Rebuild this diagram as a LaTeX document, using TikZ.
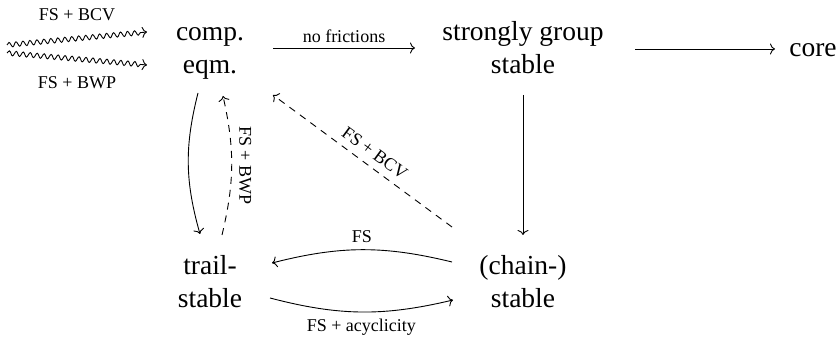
\documentclass[tikz,border=0pt]{standalone}
\usepackage{fontspec}
\setmainfont{Liberation Serif}
\newfontfamily\timesfont{Liberation Serif}
\usetikzlibrary{arrows.meta,decorations.pathmorphing,calc}
\tikzset{
  big/.style={font=\timesfont\fontsize{27.5}{33}\selectfont, align=center, inner sep=0pt},
  lbl/.style={font=\timesfont\fontsize{18}{21}\selectfont, inner sep=0pt},
  arr/.style={line width=0.9pt, -{Computer Modern Rightarrow[length=5pt,width=11pt]}},
  dsh/.style={arr, dash pattern=on 7pt off 6pt},
  wavy/.style={arr, decorate, decoration={snake, amplitude=2.4pt, segment length=7pt, post length=5pt}},
}
\begin{document}
\begin{tikzpicture}[x=1pt,y=1pt]
\useasboundingbox (0,0) rectangle (839,340);
\node[big] (comp)  at (210,290) {\strut comp.\\\strut eqm.};
\node[big] (sgs)   at (523,290) {\strut strongly group\\\strut stable};
\node[big] (core)  at (813,290) {\strut core};
\node[big] (trail) at (210,56)  {\strut trail-\\\strut stable};
\node[big] (chain) at (523,56)  {\strut (chain-)\\\strut stable};
\coordinate (w1) at (7,295);
\coordinate (w2) at (7,287);

\draw[wavy] (w1) -- node[lbl,above=17pt]{FS + BCV} ($(comp)+(-63,18)$);
\draw[wavy] (w2) -- node[lbl,below=17pt]{FS + BWP} ($(comp)+(-63,-15)$);
\draw[arr] ($(comp)+(63,2)$) -- node[lbl,above=5pt]{no frictions} ($(sgs)+(-108,2)$);
\draw[arr] ($(sgs)+(112,1)$) -- ($(core)+(-38,1)$);
\draw[arr] ($(sgs)+(0,-45)$) -- ($(chain)+(0,49)$);
\draw[arr] ($(comp)+(-12,-43)$) to[bend right=15] ($(trail)+(-10,50)$);
\draw[dsh] ($(trail)+(12,49)$) to[bend right=13] node[lbl,midway,rotate=-90,anchor=south,inner sep=7pt]{FS + BWP} ($(comp)+(13,-46)$);
\draw[dsh] ($(chain)+(-71,57)$) -- node[lbl,pos=0.476,sloped,above=7pt]{FS + BCV} ($(comp)+(63,-45)$);
\draw[arr] ($(chain)+(-71,22)$) to[bend right=14] node[lbl,above=7pt]{FS} ($(trail)+(62,21)$);
\draw[arr] ($(trail)+(60,-14)$) to[bend right=14] node[lbl,below=7pt]{FS + acyclicity} ($(chain)+(-70,-16)$);
\end{tikzpicture}
\end{document}
